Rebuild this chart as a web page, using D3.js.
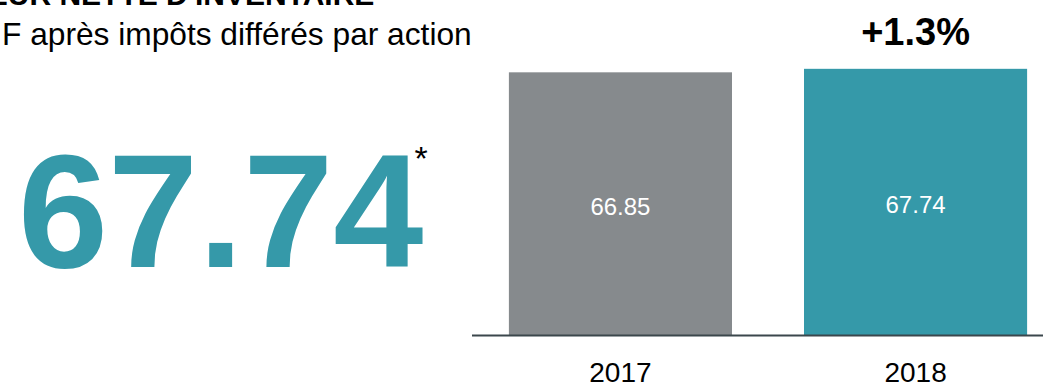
<!DOCTYPE html>
<html>
<head>
<meta charset="utf-8">
<script src="https://cdn.jsdelivr.net/npm/d3@7"></script>
<style>
  html, body { margin: 0; padding: 0; background: #fff; }
  svg { display: block; font-family: Arial, "Liberation Sans", Helvetica, sans-serif; }
</style>
</head>
<body>
<svg id="chart" width="1043" height="386"></svg>
<script>
// NAV per share, after deferred taxes
const years = ["2017", "2018"];
const values = [66.85, 67.74];
const barColors = ["#868a8d", "#3599a9"];
const headline = 67.74;
const changeLabel = "+1.3%";
const titleText = "VALEUR NETTE D'INVENTAIRE";
const subtitleText = "F après impôts différés par action";

const svg = d3.select("#chart");
const W = 1043, H = 386;
const baseY = 335;

const x = d3.scaleBand()
  .domain(years)
  .range([472, 1064])
  .paddingInner(0.244)
  .paddingOuter(0.125);

const y = d3.scaleLinear()
  .domain([0, 85])
  .range([baseY, 1]);

// Title (partly above the top edge) and subtitle
svg.append("text")
  .attr("x", -70).attr("y", 5)
  .attr("font-size", 30).attr("font-weight", "bold")
  .attr("fill", "#000")
  .text(titleText);

svg.append("text")
  .attr("x", 2).attr("y", 45)
  .attr("font-size", 31.7)
  .attr("fill", "#000")
  .text(subtitleText);

// Headline figure with footnote mark
const fmt = d3.format(".2f");
const big = svg.append("text")
  .attr("x", 18).attr("y", 267)
  .attr("font-size", 162).attr("font-weight", "bold")
  .attr("fill", "#3599a9");
big.append("tspan").text(fmt(headline));
big.append("tspan")
  .attr("dx", -9)
  .attr("dy", -97)
  .attr("font-size", 34)
  .attr("font-weight", "normal")
  .attr("fill", "#000")
  .text("*");

// Bars
const g = svg.append("g");
g.selectAll("rect.bar")
  .data(years)
  .join("rect")
  .attr("class", "bar")
  .attr("x", d => x(d))
  .attr("width", x.bandwidth())
  .attr("y", (d, i) => y(values[i]))
  .attr("height", (d, i) => baseY - y(values[i]))
  .attr("fill", (d, i) => barColors[i]);

// Values inside bars
g.selectAll("text.val")
  .data(years)
  .join("text")
  .attr("class", "val")
  .attr("x", d => x(d) + x.bandwidth() / 2)
  .attr("y", (d, i) => (y(values[i]) + baseY) / 2 + 11)
  .attr("text-anchor", "middle")
  .attr("font-size", 24)
  .attr("fill", "#fff")
  .text((d, i) => fmt(values[i]));

// Growth label above last bar
svg.append("text")
  .attr("x", x(years[1]) + x.bandwidth() / 2)
  .attr("y", 45)
  .attr("text-anchor", "middle")
  .attr("font-size", 38).attr("font-weight", "bold")
  .attr("fill", "#000")
  .text(changeLabel);

// Baseline axis
const axis = svg.append("g")
  .attr("transform", `translate(0,${baseY})`)
  .call(d3.axisBottom(x).tickSize(0).tickPadding(30));
axis.select(".domain")
  .attr("d", `M472,0.5H${W}`)
  .attr("stroke", "#3b474c")
  .attr("stroke-width", 2);
axis.selectAll(".tick text")
  .attr("font-family", "Arial, 'Liberation Sans', sans-serif")
  .attr("font-size", 28)
  .attr("fill", "#000")
  .attr("dy", 0)
  .attr("y", 47);
</script>
</body>
</html>
